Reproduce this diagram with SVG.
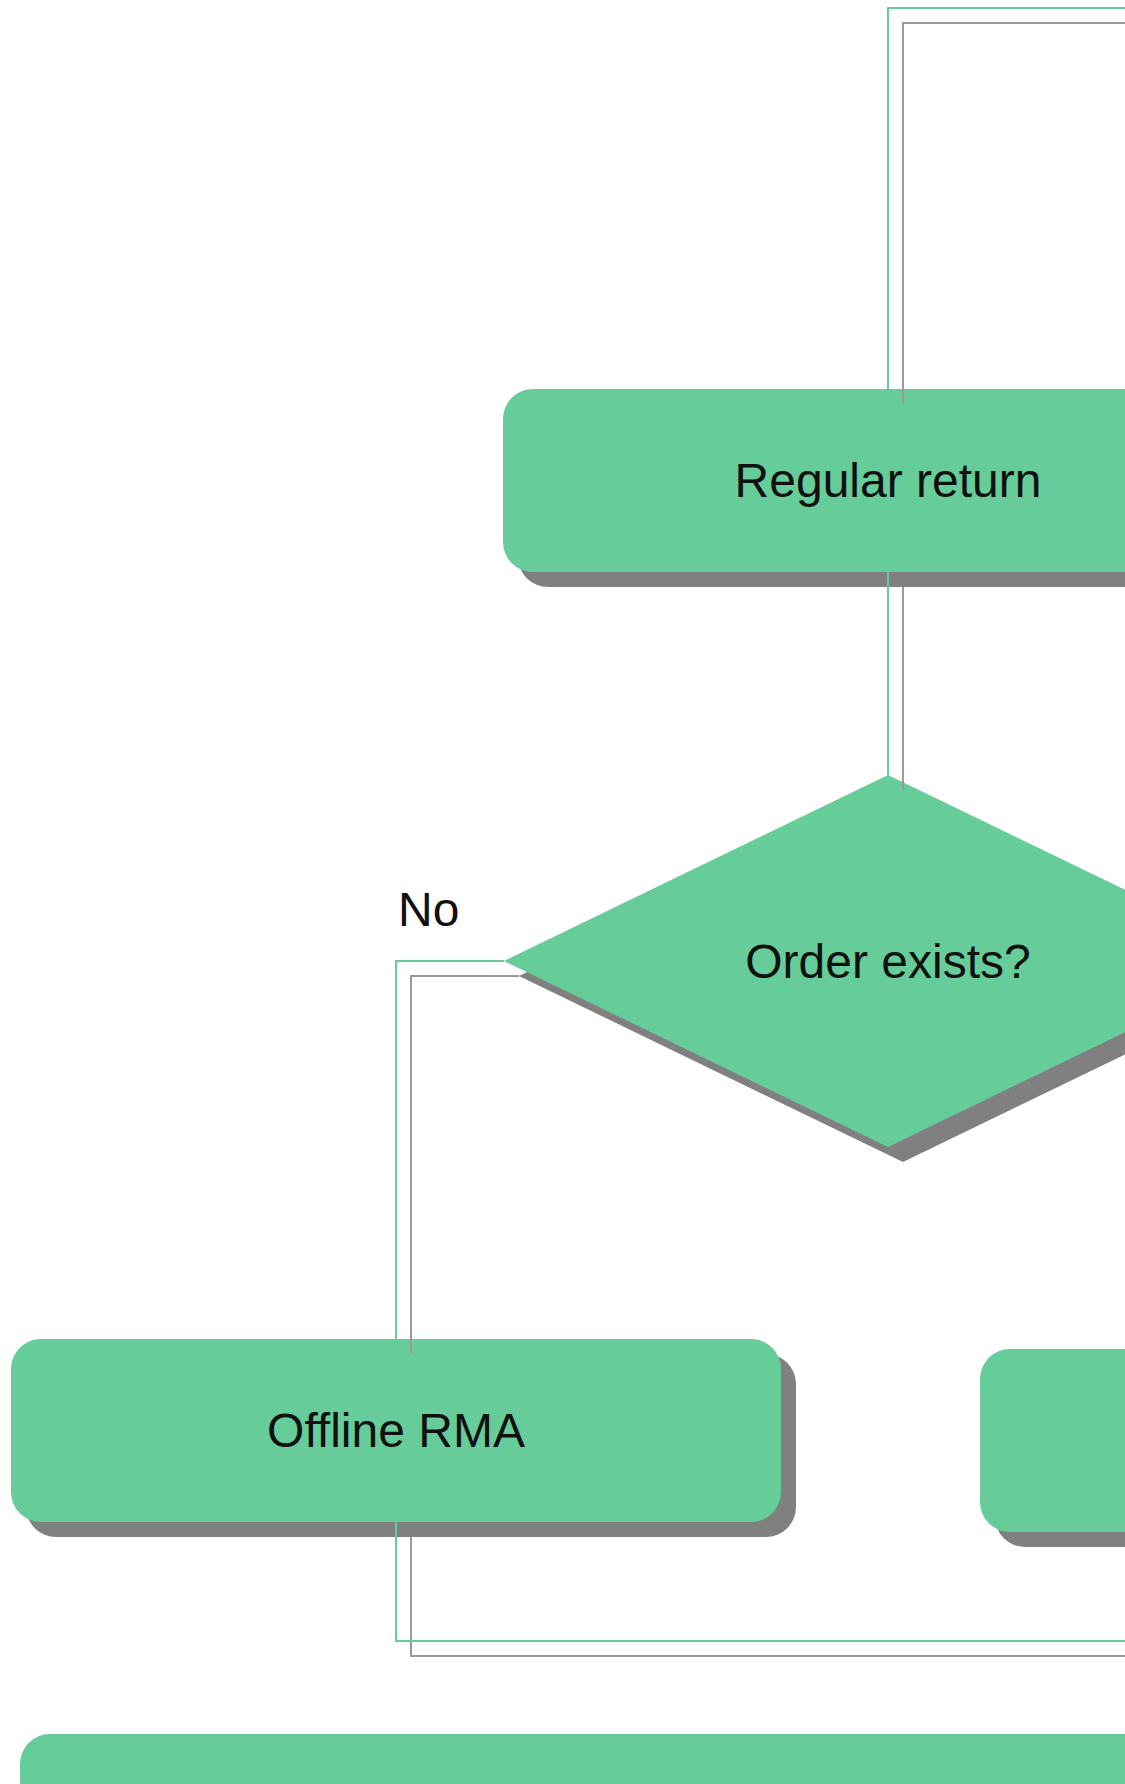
<svg xmlns="http://www.w3.org/2000/svg" width="1125" height="1784" viewBox="0 0 1125 1784">
<defs>
<style>
.shape{fill:#66cc99;}
.shadow{fill:#808080;}
.lbl{font-family:"Liberation Sans",Arial,sans-serif;font-size:48px;fill:#111;}
.c{text-anchor:middle;}
.conn{fill:none;stroke:#66cc99;stroke-width:2;}
.connsh{fill:none;stroke:#9a9a9a;stroke-width:2;}
</style>
</defs>
<rect width="1125" height="1784" fill="#ffffff"/>
<g id="node-regular-return">
<rect class="shadow" x="518" y="404" width="770" height="183" rx="30"/>
<rect class="shape" x="503" y="389" width="770" height="183" rx="30"/>
<text class="lbl c" x="888" y="497">Regular return</text>
</g>
<g id="node-order-exists">
<polygon class="shadow" points="903,790 1287,976 903,1162 519,976"/>
<polygon class="shape" points="888,775 1272,961 888,1147 504,961"/>
<text class="lbl c" x="888" y="978">Order exists?</text>
</g>
<g id="node-offline-rma">
<rect class="shadow" x="26" y="1354" width="770" height="183" rx="30"/>
<rect class="shape" x="11" y="1339" width="770" height="183" rx="30"/>
<text class="lbl c" x="396" y="1447">Offline RMA</text>
</g>
<g id="node-right">
<rect class="shadow" x="995" y="1364" width="770" height="183" rx="30"/>
<rect class="shape" x="980" y="1349" width="770" height="183" rx="30"/>
</g>
<g id="node-bottom">
<rect class="shape" x="20" y="1734" width="1200" height="183" rx="30"/>
</g>
<g id="connectors">
<path class="connsh" d="M1140,23 H903 V404"/>
<path class="connsh" d="M903,587 V790"/>
<path class="connsh" d="M519,976 H411 V1354"/>
<path class="connsh" d="M411,1537 V1656 H1140"/>
<path class="conn" d="M1140,8 H888 V389"/>
<path class="conn" d="M888,572 V775"/>
<path class="conn" d="M504,961 H396 V1339"/>
<path class="conn" d="M396,1522 V1641 H1140"/>
</g>
<text class="lbl" x="398" y="926">No</text>
</svg>
